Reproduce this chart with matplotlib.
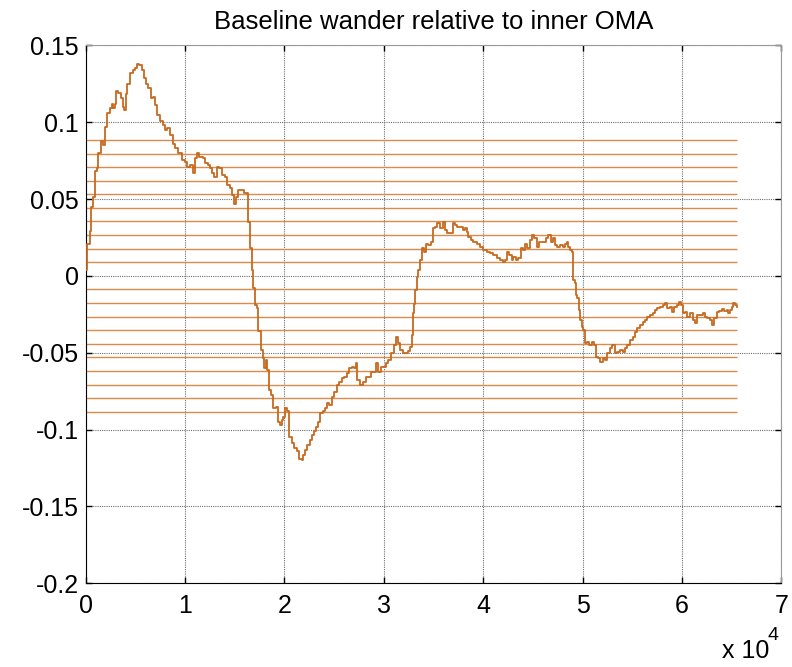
import matplotlib
matplotlib.use("Agg")
import matplotlib.pyplot as plt

plt.rcParams['font.family'] = ['Liberation Sans', 'DejaVu Sans']

# signal (x in units of 1e4 samples)
x_e4 = [0.003, 0.016, 0.043, 0.053, 0.076, 0.094, 0.111, 0.127, 0.151, 0.177,
        0.194, 0.217, 0.244, 0.262, 0.278, 0.295, 0.305, 0.328, 0.352, 0.372,
        0.385, 0.402, 0.419, 0.446, 0.473, 0.496, 0.519, 0.539, 0.563, 0.587,
        0.607, 0.630, 0.654, 0.674, 0.697, 0.720, 0.747, 0.775, 0.798, 0.821,
        0.848, 0.875, 0.898, 0.932, 0.966, 0.999, 1.022, 1.049, 1.082, 1.100,
        1.117, 1.143, 1.177, 1.200, 1.227, 1.251, 1.274, 1.294, 1.318, 1.344,
        1.368, 1.401, 1.425, 1.452, 1.475, 1.492, 1.512, 1.535, 1.569, 1.593,
        1.620, 1.636, 1.653, 1.670, 1.686, 1.703, 1.726, 1.736, 1.761, 1.781,
        1.794, 1.814, 1.827, 1.847, 1.864, 1.887, 1.914, 1.938, 1.955, 1.972,
        1.988, 2.005, 2.022, 2.048, 2.072, 2.096, 2.123, 2.149, 2.173, 2.189,
        2.206, 2.229, 2.257, 2.274, 2.297, 2.317, 2.340, 2.357, 2.384, 2.407,
        2.425, 2.451, 2.475, 2.498, 2.525, 2.551, 2.575, 2.599, 2.626, 2.652,
        2.676, 2.699, 2.719, 2.732, 2.760, 2.793, 2.820, 2.843, 2.867, 2.893,
        2.921, 2.944, 2.968, 2.994, 3.021, 3.044, 3.071, 3.102, 3.122, 3.142,
        3.162, 3.195, 3.245, 3.263, 3.280, 3.290, 3.303, 3.313, 3.330, 3.346,
        3.363, 3.380, 3.403, 3.423, 3.447, 3.471, 3.491, 3.514, 3.537, 3.564,
        3.592, 3.615, 3.638, 3.665, 3.692, 3.715, 3.738, 3.765, 3.793, 3.816,
        3.833, 3.849, 3.873, 3.899, 3.934, 3.967, 4.000, 4.034, 4.067, 4.101,
        4.135, 4.168, 4.195, 4.218, 4.241, 4.261, 4.286, 4.302, 4.329, 4.352,
        4.376, 4.396, 4.420, 4.443, 4.470, 4.486, 4.509, 4.537, 4.563, 4.588,
        4.611, 4.631, 4.654, 4.678, 4.698, 4.721, 4.744, 4.772, 4.799, 4.822,
        4.839, 4.855, 4.872, 4.889, 4.899, 4.905, 4.922, 4.932, 4.946, 4.966,
        4.973, 4.990, 5.006, 5.023, 5.046, 5.066, 5.091, 5.114, 5.134, 5.157,
        5.174, 5.201, 5.224, 5.247, 5.275, 5.298, 5.325, 5.348, 5.375, 5.402,
        5.426, 5.449, 5.476, 5.503, 5.526, 5.549, 5.576, 5.604, 5.627, 5.650,
        5.677, 5.704, 5.727, 5.750, 5.777, 5.805, 5.828, 5.851, 5.878, 5.895,
        5.918, 5.946, 5.972, 5.986, 6.006, 6.030, 6.052, 6.079, 6.106, 6.130,
        6.153, 6.180, 6.207, 6.230, 6.254, 6.281, 6.298, 6.321, 6.348, 6.374,
        6.398, 6.421, 6.449, 6.465, 6.482, 6.499, 6.515, 6.532, 6.549]
wander = [0.004, 0.021, 0.029, 0.045, 0.0515, 0.068, 0.070, 0.080, 0.088, 0.085,
          0.097, 0.106, 0.109, 0.112, 0.109, 0.112, 0.120, 0.119, 0.1155, 0.110,
          0.108, 0.118, 0.125, 0.132, 0.134, 0.135, 0.138, 0.137, 0.134, 0.1285,
          0.125, 0.122, 0.1155, 0.1166, 0.111, 0.1047, 0.101, 0.098, 0.095, 0.096,
          0.0917, 0.086, 0.083, 0.080, 0.0754, 0.0743, 0.071, 0.072, 0.0668, 0.0765,
          0.080, 0.0776, 0.0765, 0.0733, 0.072, 0.070, 0.0668, 0.0645, 0.071, 0.070,
          0.0656, 0.0645, 0.059, 0.057, 0.0526, 0.047, 0.0515, 0.056, 0.056, 0.0537,
          0.0537, 0.0353, 0.018, 0.0038, -0.008, -0.019, -0.021, -0.036, -0.048, -0.0536,
          -0.060, -0.0547, -0.061, -0.074, -0.0775, -0.086, -0.085, -0.0949, -0.097, -0.094,
          -0.0916, -0.086, -0.088, -0.1046, -0.109, -0.112, -0.114, -0.119, -0.120, -0.1165,
          -0.113, -0.110, -0.1068, -0.1035, -0.101, -0.098, -0.0949, -0.0894, -0.088, -0.086,
          -0.083, -0.084, -0.0786, -0.0753, -0.071, -0.0688, -0.0666, -0.0656, -0.0634, -0.060,
          -0.059, -0.060, -0.0569, -0.0677, -0.071, -0.0688, -0.0656, -0.0656, -0.0623, -0.0623,
          -0.0569, -0.0623, -0.059, -0.059, -0.0569, -0.0547, -0.050, -0.045, -0.040, -0.044,
          -0.048, -0.050, -0.049, -0.046, -0.0385, -0.024, -0.018, -0.009, -0.0005, 0.0038,
          0.0103, 0.018, 0.0157, 0.021, 0.020, 0.0222, 0.031, 0.032, 0.0342, 0.031,
          0.0353, 0.0299, 0.0277, 0.0277, 0.0342, 0.033, 0.032, 0.032, 0.0299, 0.031,
          0.0288, 0.0255, 0.0234, 0.0222, 0.021, 0.019, 0.0168, 0.0157, 0.0147, 0.0136,
          0.0114, 0.0103, 0.0092, 0.0103, 0.0157, 0.0136, 0.0103, 0.0125, 0.0103, 0.0114,
          0.018, 0.0168, 0.021, 0.018, 0.0234, 0.0266, 0.0245, 0.019, 0.0222, 0.0222,
          0.0222, 0.0245, 0.0266, 0.0222, 0.0245, 0.020, 0.019, 0.020, 0.019, 0.021,
          0.0222, 0.019, 0.0168, 0.0157, 0.0136, -0.0027, -0.0048, -0.0124, -0.0146, -0.022,
          -0.0287, -0.033, -0.035, -0.0439, -0.0428, -0.045, -0.0428, -0.045, -0.0526, -0.0536,
          -0.0558, -0.0536, -0.0547, -0.0504, -0.0471, -0.045, -0.0504, -0.0493, -0.048, -0.0493,
          -0.0471, -0.045, -0.0417, -0.0396, -0.0363, -0.034, -0.032, -0.0298, -0.0287, -0.0265,
          -0.0254, -0.0243, -0.022, -0.021, -0.020, -0.019, -0.0178, -0.021, -0.020, -0.0233,
          -0.020, -0.019, -0.0168, -0.019, -0.0243, -0.0233, -0.0265, -0.0243, -0.0287, -0.0308,
          -0.0254, -0.0254, -0.024, -0.027, -0.0276, -0.0287, -0.032, -0.0276, -0.0233, -0.0226,
          -0.0217, -0.0226, -0.022, -0.0243, -0.022, -0.020, -0.0174, -0.019, -0.020]

# horizontal reference levels
levels = [0.0885, 0.0796, 0.0708, 0.0619, 0.0531, 0.0442, 0.0354, 0.0265, 0.0177, 0.0088,
          -0.0088, -0.0177, -0.0265, -0.0354, -0.0442, -0.0531, -0.0619, -0.0708, -0.0796, -0.0885]
n_samples = 65536

xticks = [0, 1, 2, 3, 4, 5, 6, 7]
yticks = [0.15, 0.1, 0.05, 0, -0.05, -0.1, -0.15, -0.2]
ytick_labels = ['0.15', '0.1', '0.05', '0', '-0.05', '-0.1', '-0.15', '-0.2']

fig = plt.figure(figsize=(7.92, 6.67), dpi=100)
ax = fig.add_axes([0.1082, 0.1255, 0.8785, 0.8066])

x = [v * 1e4 for v in x_e4]
ax.hlines(levels, 0, n_samples, colors='#DA8C4C', linewidth=1.0, zorder=2)
ax.plot(x, wander, color='#C8691F', linewidth=1.3, drawstyle='steps-post', zorder=3)

ax.set_xlim(0, 7e4)
ax.set_ylim(-0.2, 0.15)
ax.set_xticks([t * 1e4 for t in xticks])
ax.set_xticklabels([str(t) for t in xticks])
ax.set_yticks(yticks)
ax.set_yticklabels(ytick_labels)

ax.grid(True, color='#6f6f6f', linestyle=(0, (1, 1)), linewidth=0.8, zorder=1)
ax.set_axisbelow(True)
ax.tick_params(direction='in', length=4, width=1, top=True, right=True,
               labelsize=18, pad=5, colors='black')
ax.tick_params(axis='x', pad=8)
for s in ['left', 'bottom']:
    ax.spines[s].set_color('black')
for s in ['top', 'right']:
    ax.spines[s].set_color('#999999')

ax.set_title('Baseline wander relative to inner OMA', fontsize=18.5, pad=12)
fig.text(0.912, 0.014, 'x 10', fontsize=18, ha='left', va='baseline')
fig.text(0.969, 0.040, '4', fontsize=14, ha='left', va='baseline')

fig.savefig('out.png', dpi=100)
